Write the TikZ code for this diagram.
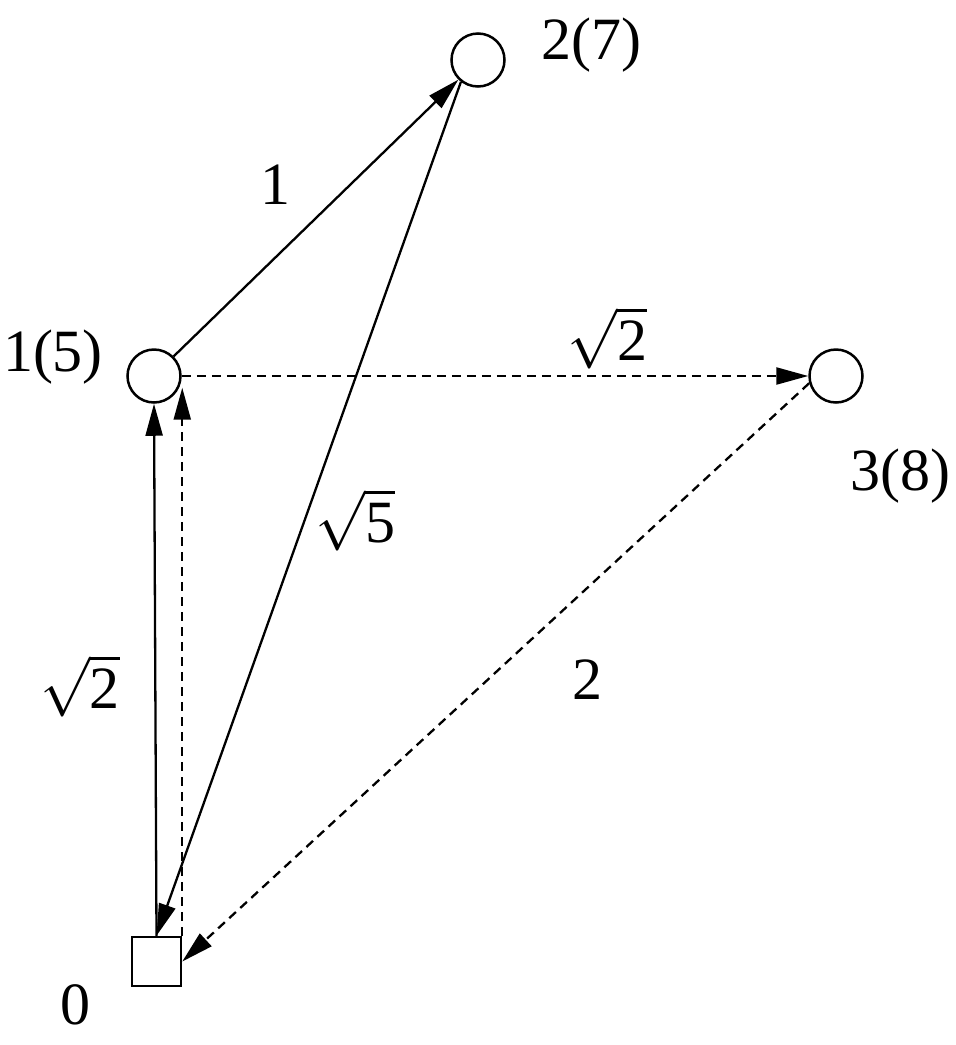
\RequirePackage{fix-cm}
\documentclass[tikz,border=0pt]{standalone}
\usepackage{fontspec}
\setmainfont{Liberation Serif}
\newfontfamily\tnr{Liberation Serif}
\usetikzlibrary{arrows.meta,calc}
\newcommand\myroot[1]{$\sqrt{\mbox{\tnr #1}}$}
\begin{document}
\begin{tikzpicture}[x=1pt,y=-1pt,
  vert/.style={draw,line width=2.5pt,circle,minimum size=53pt,inner sep=0pt},
  depot/.style={draw,line width=2.5pt,rectangle,minimum size=49pt,inner sep=0pt},
  lbl/.style={font=\tnr\fontsize{60}{70}\selectfont,inner sep=0pt},
  edge/.style={line width=2.3pt,-{Triangle[length=32pt,width=17pt]}},
  dedge/.style={edge,dash pattern=on 9pt off 6pt}]
\useasboundingbox (0,0) rectangle (956,1045);
\node[vert] (n1) at (154,376) {};
\node[vert] (n2) at (478,60) {};
\node[vert] (n3) at (836,376) {};
\node[depot] (n0) at (156.5,961.5) {};
\draw[edge] (n1.45) -- (n2.225);
\draw[edge] (n2.232) -- (n0.north);
\draw[edge] (n0.north) -- (n1.south);
\draw[dedge] (n0.north east) -- (n0.north east |- n1.-25);
\draw[dedge] (n1.east) -- (n3.west);
\draw[dedge] (n3.195) -- (n0.east);
\node[lbl] (l2) at (591,45) {2(7)};
\node[lbl] (l1) at (53,357) {1(5)};
\node[lbl] (l3) at (900,476) {3(8)};
\node[lbl] (l0) at (75,1005) {0};
\node[lbl] (e12) at (275,185) {1};
\node[lbl] (e13) at (607,338) {\myroot{2}};
\node[lbl] (e20) at (355,520) {\myroot{5}};
\node[lbl] (e01) at (80,686) {\myroot{2}};
\node[lbl] (e30) at (587,680) {2};
\end{tikzpicture}
\end{document}
